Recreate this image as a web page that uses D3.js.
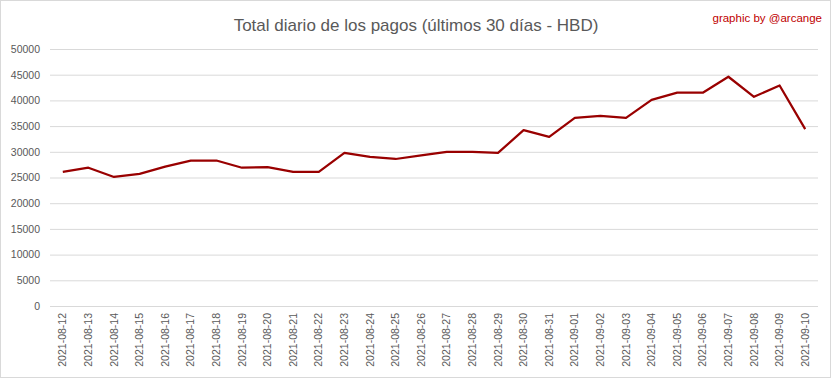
<!DOCTYPE html>
<html>
<head>
<meta charset="utf-8">
<script src="https://cdn.jsdelivr.net/npm/d3@7"></script>
<style>
  body { margin: 0; background: #fff; }
  svg text { font-family: "Liberation Sans", Arial, sans-serif; }
</style>
</head>
<body>
<script>
// Data
var dates = ["2021-08-12", "2021-08-13", "2021-08-14", "2021-08-15", "2021-08-16",
  "2021-08-17", "2021-08-18", "2021-08-19", "2021-08-20", "2021-08-21",
  "2021-08-22", "2021-08-23", "2021-08-24", "2021-08-25", "2021-08-26",
  "2021-08-27", "2021-08-28", "2021-08-29", "2021-08-30", "2021-08-31",
  "2021-09-01", "2021-09-02", "2021-09-03", "2021-09-04", "2021-09-05",
  "2021-09-06", "2021-09-07", "2021-09-08", "2021-09-09", "2021-09-10"];
var totals = [26100, 26900, 25100, 25700, 27100, 28300, 28300, 26900, 27000, 26100,
  26100, 29800, 29000, 28600, 29300, 30000, 30000, 29800, 34200, 32900,
  36600, 37000, 36600, 40100, 41500, 41500, 44600, 40700, 42900, 34400];
var yTicks = [0, 5000, 10000, 15000, 20000, 25000, 30000, 35000, 40000, 45000, 50000];

var title = "Total diario de los pagos (últimos 30 días - HBD)";
var credit = "graphic by @arcange";

// Dimensions
let w = 833;
let h = 379;
let plotLeft = 50, plotRight = 818, plotTop = 49, plotBottom = 306;

var svg = d3.select("body")
  .append("svg")
  .attr("width", w)
  .attr("height", h);

// outer border
svg.append("rect")
  .attr("x", 0.5).attr("y", 0.5)
  .attr("width", w - 3).attr("height", h - 2)
  .attr("fill", "#fff")
  .attr("stroke", "#d9d9d9");

let xScale = d3.scaleBand()
  .domain(dates)
  .range([plotLeft, plotRight]);

let yScale = d3.scaleLinear()
  .domain([0, 50000])
  .range([plotBottom, plotTop]);

// gridlines + y labels
let yAxis = d3.axisLeft(yScale)
  .tickValues(yTicks)
  .tickSize(-(plotRight - plotLeft))
  .tickPadding(10)
  .tickFormat(d3.format("d"));

let gy = svg.append("g")
  .attr("transform", "translate(" + plotLeft + ",0)")
  .call(yAxis);
gy.select(".domain").remove();
gy.selectAll(".tick line").attr("stroke", "#d9d9d9");
gy.selectAll(".tick text")
  .attr("fill", "#595959")
  .attr("font-size", "10.5px");

// x labels
let xAxis = d3.axisBottom(xScale).tickSize(0).tickPadding(0);
let gx = svg.append("g")
  .attr("transform", "translate(0," + plotBottom + ")")
  .call(xAxis);
gx.select(".domain").remove();
gx.selectAll(".tick text")
  .attr("fill", "#595959")
  .attr("font-size", "10.5px")
  .attr("transform", "rotate(-90)")
  .attr("text-anchor", "end")
  .attr("x", -7)
  .attr("y", 0)
  .attr("dy", "0.35em");

// line
let line = d3.line()
  .x(function(d, i) { return xScale(dates[i]) + xScale.bandwidth() / 2; })
  .y(function(d) { return yScale(d); });

svg.append("path")
  .datum(totals)
  .attr("fill", "none")
  .attr("stroke", "#990000")
  .attr("stroke-width", 2.25)
  .attr("stroke-linejoin", "round")
  .attr("d", line);

// title
svg.append("text")
  .attr("x", 416)
  .attr("y", 31)
  .attr("text-anchor", "middle")
  .attr("font-size", "17px")
  .attr("fill", "#595959")
  .text(title);

svg.append("text")
  .attr("x", 822)
  .attr("y", 22)
  .attr("text-anchor", "end")
  .attr("font-size", "11.5px")
  .attr("fill", "#c00000")
  .text(credit);
</script>
</body>
</html>
